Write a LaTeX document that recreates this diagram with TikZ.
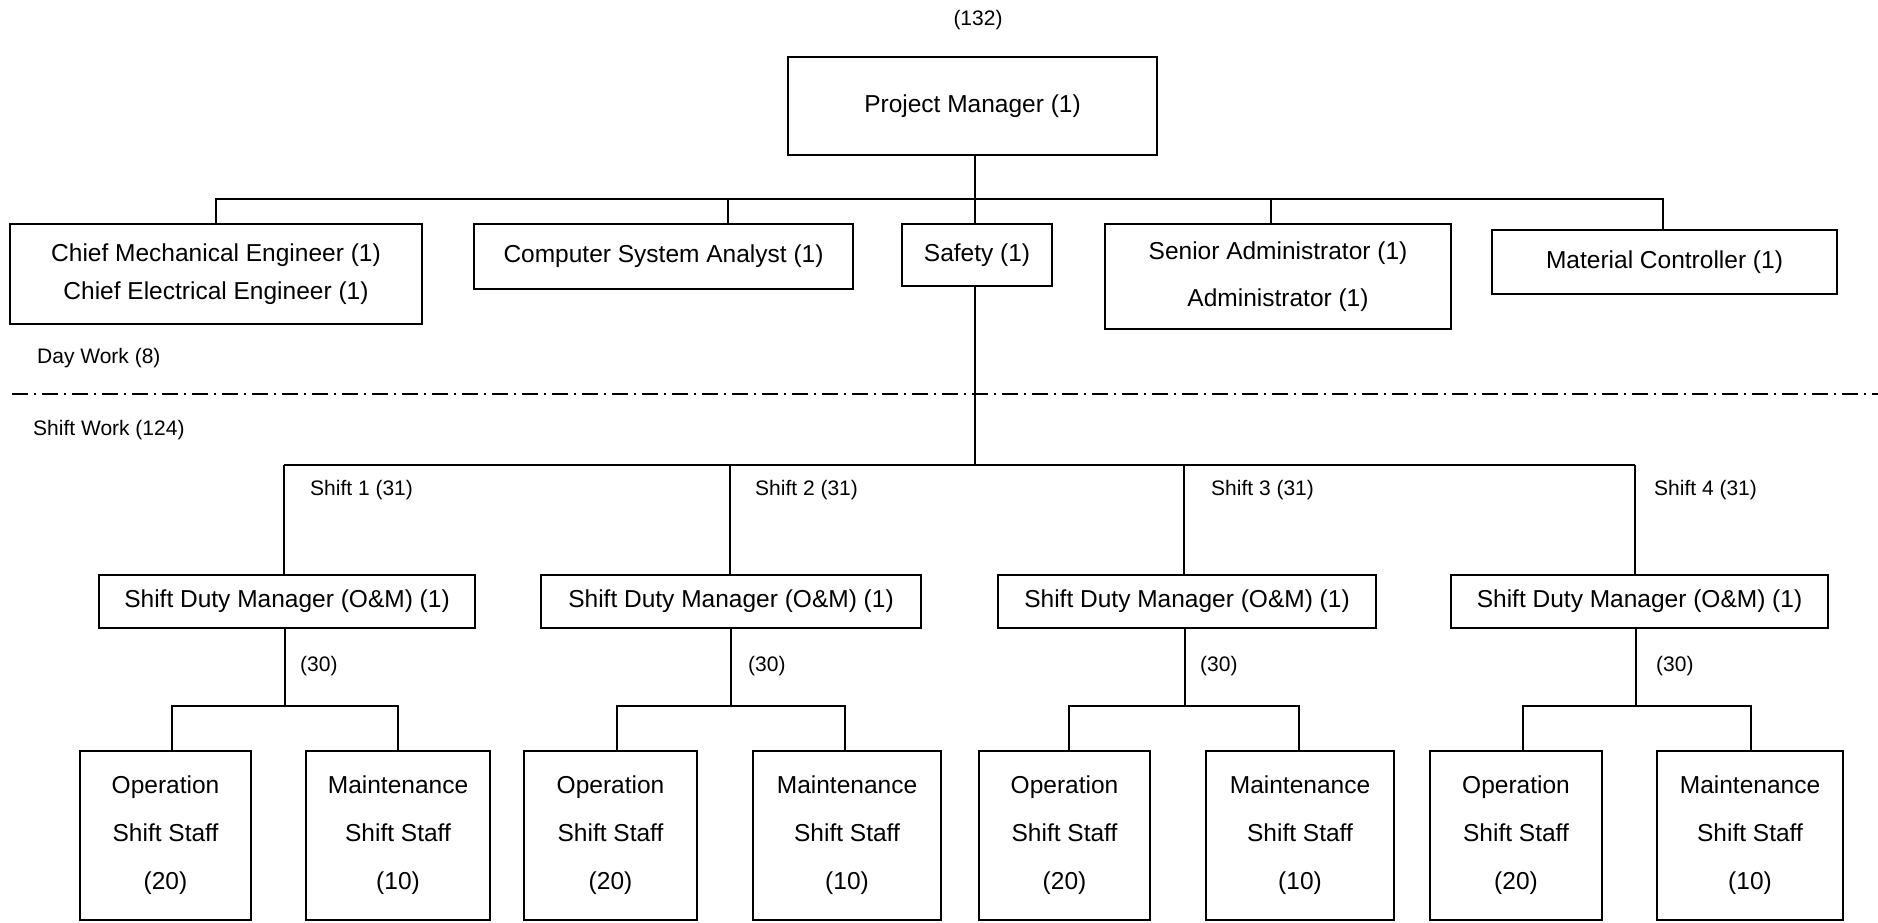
\documentclass[tikz,border=0pt]{standalone}
\usepackage{fontspec}
\setmainfont{Liberation Sans}
\tikzset{
  box/.style={draw, line width=2pt, inner sep=0pt, align=center, font=\fontsize{24.5}{30}\selectfont},
  lbl/.style={inner sep=0pt, anchor=west, font=\fontsize{21}{25}\selectfont},
  conn/.style={line width=2pt},
  sep/.style={line width=2pt, dash pattern=on 16pt off 6pt on 2pt off 6pt},
}
\begin{document}
\begin{tikzpicture}[x=1pt, y=-1pt]
\fill[white] (0,0) rectangle (1878,922);
\useasboundingbox (0,0) rectangle (1878,922);

% top
\node[lbl, anchor=center] (total) at (978,20) {(132)};
\node[box, minimum width=369, minimum height=98] (pm) at (972.5,106) {Project Manager (1)};

% day work boxes
\node[box, minimum width=412, minimum height=100, font=\fontsize{24.5}{38}\selectfont] (chief) at (216,274)
  {Chief Mechanical Engineer (1)\\Chief Electrical Engineer (1)};
\node[box, minimum width=379, minimum height=65] (comp) at (663.5,256.5) {Computer System Analyst (1)};
\node[box, minimum width=150, minimum height=62] (safety) at (977,255) {Safety (1)};
\node[box, minimum width=346, minimum height=105, font=\fontsize{24.5}{47}\selectfont] (senior) at (1278,276.5)
  {Senior Administrator (1)\\Administrator (1)};
\node[box, minimum width=345, minimum height=64] (mat) at (1664.5,262) {Material Controller (1)};

% top bus
\coordinate (tb) at (975,199);
\coordinate (tbL) at (216,199);
\coordinate (tbR) at (1663,199);
\coordinate (tbC) at (728,199);
\coordinate (tbS) at (1271,199);
\draw[conn] (pm.south -| tb) -- (tb);
\draw[conn] (chief.north -| tbL) -- (tbL) -- (tbR) -- (mat.north -| tbR);
\draw[conn] (tbC) -- (comp.north -| tbC);
\draw[conn] (tbS) -- (senior.north -| tbS);
\draw[conn] (tb) -- (safety.north -| tb);

% separator
\node[lbl] (day) at (37,358) {Day Work (8)};
\coordinate (sepL) at (12,394);
\coordinate (sepR) at (1878,394);
\draw[sep] (sepL) -- (sepR);
\node[lbl] (shiftwork) at (33,430) {Shift Work (124)};

% shift bus
\coordinate (sbL) at (284,465);
\coordinate (sbR) at (1635,465);
\draw[conn] (safety.south -| tb) -- (tb |- sbL);
\draw[conn] (sbL) -- (sbR);

\foreach \i/\dx/\sc/\sw/\slx/\tlx/\bl/\br/\oc/\ow/\mc/\mw in {
  1/284/287/376/310/300/172/398/165.5/171/398/184,
  2/730/731/380/755/748/617/845/610.5/173/847/188,
  3/1184/1187/378/1211/1200/1069/1299/1064.5/171/1300/188,
  4/1635/1639.5/377/1654/1656/1523/1751/1516/172/1750/186}{
  \node[lbl] (sl\i) at (\slx,490) {Shift \i\ (31)};
  \node[box, minimum width=\sw, minimum height=53] (sdm\i) at (\sc,601.5) {Shift Duty Manager (O\&M) (1)};
  \coordinate (sd\i) at (\dx,465);
  \draw[conn] (sd\i) -- (sdm\i.north -| sd\i);
  \coordinate (sub\i) at (\dx+1,706);
  \draw[conn] (sdm\i.south -| sub\i) -- (sub\i);
  \node[lbl] (n\i) at (\tlx,666) {(30)};
  \node[box, minimum width=\ow, minimum height=169, font=\fontsize{24.5}{48}\selectfont] (op\i) at (\oc,835.5)
    {Operation\\Shift Staff\\(20)};
  \node[box, minimum width=\mw, minimum height=169, font=\fontsize{24.5}{48}\selectfont] (mt\i) at (\mc,835.5)
    {Maintenance\\Shift Staff\\(10)};
  \coordinate (bl\i) at (\bl,706);
  \coordinate (br\i) at (\br,706);
  \draw[conn] (op\i.north -| bl\i) -- (bl\i) -- (br\i) -- (mt\i.north -| br\i);
}
\end{tikzpicture}
\end{document}
